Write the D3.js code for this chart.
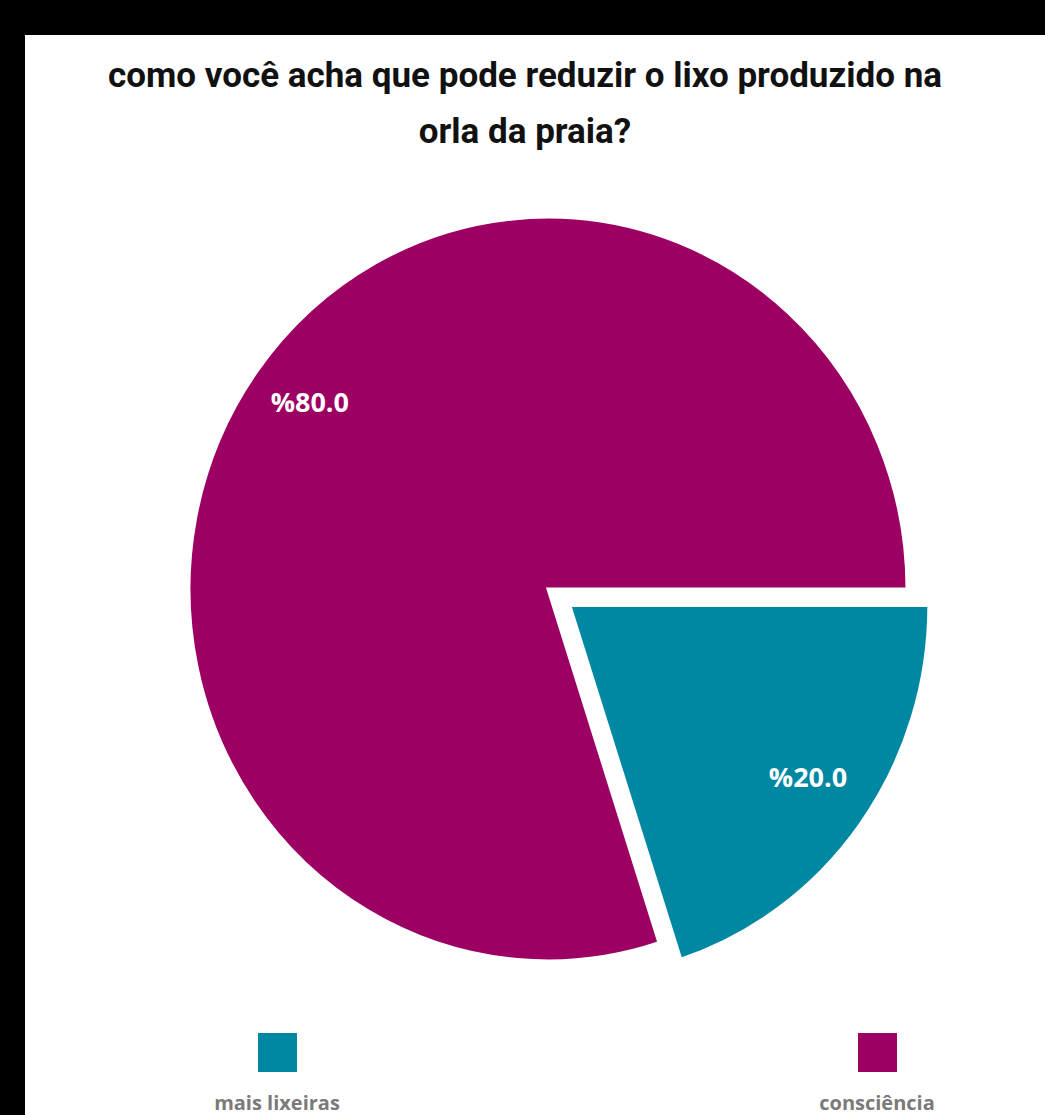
<!DOCTYPE html>
<meta charset="utf-8">
<style>
body{margin:0;background:#000;}
.title{font-family:Roboto,"Liberation Sans",sans-serif;font-weight:700;fill:#111;}
.perc{font-family:"Open Sans",Lato,sans-serif;font-weight:700;fill:#fff;}
.legLabel{font-family:"Open Sans",Lato,sans-serif;font-weight:700;fill:#7a7a7a;}
</style>
<body>
<script src="https://d3js.org/d3.v7.min.js"></script>
<script>

var categories=["mais lixeiras","consciência"];
var values=[20,80];
var labels=["%20.0","%80.0"];
var colors=["#0087a2","#9c0063"];
var titleLines=["como você acha que pode reduzir o lixo produzido na","orla da praia?"];

var W=1045,H=1115;
var svg=d3.select("body").append("svg").attr("width",W).attr("height",H);

// photo frame: black strip top and left
svg.append("rect").attr("width",W).attr("height",H).attr("fill","#000");
svg.append("rect").attr("x",25).attr("y",35).attr("width",W-25).attr("height",H-35).attr("fill","#fff");

svg.selectAll(".title").data(titleLines).enter().append("text")
	.attr("class","title")
	.attr("x",525)
	.attr("y",(d,i)=>87+i*56)
	.attr("text-anchor","middle")
	.style("font-size","35px")
	.text(d=>d);

var r=359, sy=1.036, cx=548, cy=589, explode=27;
var pie=d3.pie().sort(null).startAngle(Math.PI/2).endAngle(Math.PI*2.5);
var arcs=pie(values);
var arc=d3.arc().innerRadius(0).outerRadius(r);
var labelArc=d3.arc().innerRadius(r*0.82).outerRadius(r*0.82);

function offset(d,i){
	if(i!=0) return [0,0];
	var a=(d.startAngle+d.endAngle)/2;
	return [Math.sin(a)*explode,-Math.cos(a)*explode];
}

var g=svg.append("g").attr("transform","translate("+cx+","+cy+") scale(1,"+sy+")");
g.selectAll("path").data(arcs).enter().append("path")
	.attr("d",arc)
	.attr("transform",(d,i)=>"translate("+offset(d,i)+")")
	.attr("fill",(d,i)=>colors[i])
	.attr("stroke","#fff")
	.attr("stroke-width",3);

svg.selectAll(".perc").data(arcs).enter().append("text")
	.attr("class","perc")
	.attr("x",(d,i)=>cx+labelArc.centroid(d)[0]+offset(d,i)[0])
	.attr("y",(d,i)=>cy+(labelArc.centroid(d)[1]+offset(d,i)[1])*sy+2)
	.attr("text-anchor","middle")
	.style("font-size","27px")
	.text((d,i)=>labels[i]);

// legend
var lx=d3.scalePoint().domain(categories).range([277,877]);
var leg=svg.selectAll(".leg").data(categories).enter().append("g")
	.attr("transform",d=>"translate("+lx(d)+",0)");
leg.append("rect").attr("x",-19).attr("y",1033).attr("width",39).attr("height",39)
	.attr("fill",(d,i)=>colors[i]);
leg.append("text").attr("class","legLabel")
	.attr("y",1110).attr("text-anchor","middle")
	.style("font-size","20px")
	.text(d=>d);
</script>
</body>
